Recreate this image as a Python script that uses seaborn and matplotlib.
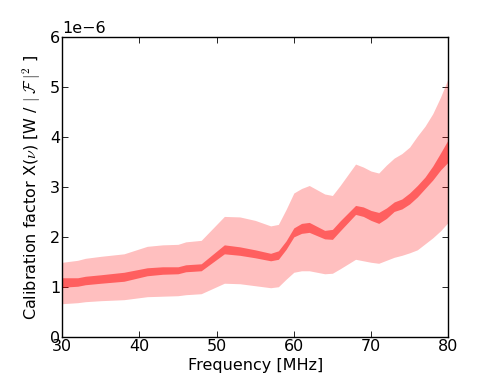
import numpy as np
import pandas as pd
import matplotlib
matplotlib.use("Agg")
import matplotlib.pyplot as plt
import seaborn as sns

# frequency nodes [MHz]
freq = [30, 32, 33, 35, 38, 41, 43, 45, 46, 48, 51, 53, 55, 57, 58, 59, 60, 61,
        62, 64, 65, 66, 68, 69, 70, 71, 72, 73, 74, 75, 76, 77, 78, 79, 80]

# outer band (light)
outer_hi = [1.49, 1.53, 1.57, 1.61, 1.66, 1.81, 1.84, 1.85, 1.90, 1.93, 2.41, 2.40,
            2.33, 2.22, 2.25, 2.55, 2.88, 2.97, 3.03, 2.86, 2.83, 3.03, 3.46, 3.40,
            3.32, 3.28, 3.44, 3.58, 3.67, 3.80, 4.02, 4.22, 4.47, 4.80, 5.18]
outer_lo = [0.66, 0.68, 0.70, 0.72, 0.74, 0.80, 0.81, 0.82, 0.84, 0.86, 1.07, 1.06,
            1.02, 0.98, 1.00, 1.15, 1.29, 1.32, 1.32, 1.26, 1.27, 1.36, 1.55, 1.52,
            1.49, 1.47, 1.53, 1.59, 1.63, 1.68, 1.74, 1.86, 1.98, 2.12, 2.29]

# inner band (dark)
inner_hi = [1.18, 1.18, 1.21, 1.24, 1.29, 1.38, 1.40, 1.40, 1.44, 1.46, 1.84, 1.80,
            1.74, 1.67, 1.72, 1.92, 2.18, 2.27, 2.29, 2.13, 2.15, 2.32, 2.63, 2.60,
            2.53, 2.49, 2.58, 2.70, 2.76, 2.88, 3.03, 3.20, 3.42, 3.68, 3.95]
inner_lo = [0.99, 1.01, 1.04, 1.07, 1.11, 1.22, 1.25, 1.26, 1.30, 1.32, 1.66, 1.63,
            1.58, 1.52, 1.55, 1.75, 2.00, 2.07, 2.09, 1.96, 1.95, 2.12, 2.45, 2.41,
            2.33, 2.27, 2.37, 2.51, 2.56, 2.66, 2.80, 2.97, 3.14, 3.34, 3.50]

df = pd.DataFrame({
    "freq": freq,
    "outer_hi": np.array(outer_hi) * 1e-6,
    "outer_lo": np.array(outer_lo) * 1e-6,
    "inner_hi": np.array(inner_hi) * 1e-6,
    "inner_lo": np.array(inner_lo) * 1e-6,
})

sns.set_style("ticks", {
    "xtick.direction": "in", "ytick.direction": "in",
    "xtick.top": True, "ytick.right": True,
    "axes.edgecolor": "black", "text.color": "black",
    "axes.labelcolor": "black", "xtick.color": "black", "ytick.color": "black",
})
plt.rcParams["font.family"] = ["DejaVu Sans"]
plt.rcParams["mathtext.fontset"] = "cm"

fs = 11.5
fig = plt.figure(figsize=(4.98, 3.74), dpi=100)
ax = fig.add_axes([0.125, 0.1, 0.775, 0.8])

ax.fill_between(df["freq"], df["outer_lo"], df["outer_hi"], color="red",
                alpha=0.25, linewidth=0)
ax.fill_between(df["freq"], df["inner_lo"], df["inner_hi"], color="red",
                alpha=0.5, linewidth=0)

ax.set_xlim(30, 80)
ax.set_ylim(0, 6e-6)
ax.set_xticks([30, 40, 50, 60, 70, 80])
ax.set_yticks(np.arange(0, 7) * 1e-6)
ax.tick_params(axis="both", which="major", length=4, width=0.6, labelsize=fs,
               top=True, right=True, pad=1.5, colors="black")
for s in ax.spines.values():
    s.set_linewidth(1.0)
ax.yaxis.get_offset_text().set_fontsize(fs)
ax.yaxis.get_offset_text().set_color("black")

ax.set_xlabel("Frequency [MHz]", fontsize=fs, labelpad=3)
ax.set_ylabel(r"Calibration factor X($\nu$) [W / $|\;\mathcal{F}\;|^2$ ]",
              fontsize=fs, labelpad=5)

fig.savefig("out.png", dpi=100)
